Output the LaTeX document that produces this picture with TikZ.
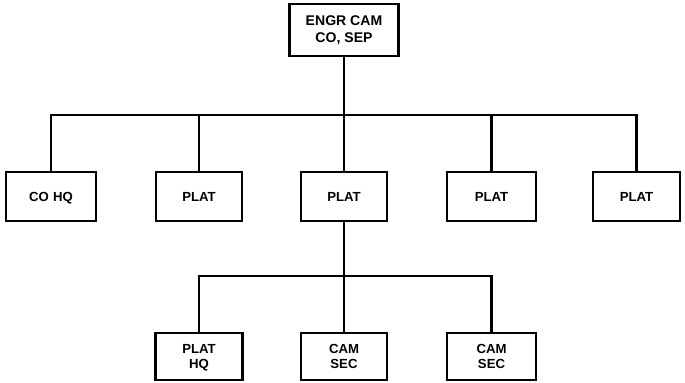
\documentclass[tikz,border=0pt]{standalone}
\usepackage{fontspec}
\setsansfont{Liberation Sans}
\usepackage{tikz}

\begin{document}
\begin{tikzpicture}[x=0.02cm, y=-0.02cm,
            box/.style={draw, line width=1.3pt, minimum height=49*0.02cm, inner sep=0pt,
                        align=center, font=\sffamily\bfseries\fontsize{7.5}{9}\selectfont},
            conn/.style={line width=1.3pt}]
            \useasboundingbox (0,0) rectangle (685,382);

            \node[box, minimum width=109*0.02cm, minimum height=52*0.02cm,
                  font=\sffamily\bfseries\fontsize{8}{9.6}\selectfont]
                  (engr) at (344,30) {ENGR CAM\\CO, SEP};

            % company row
            \node[box, minimum width=90*0.02cm] (cohq)  at (51,196.5)  {CO\,\,H\smash{Q}};
            \node[box, minimum width=86*0.02cm] (plat1) at (199,196.5) {PLAT};
            \node[box, minimum width=86*0.02cm] (plat2) at (344,196.5) {PLAT};
            \node[box, minimum width=89*0.02cm] (plat3) at (491.5,196.5) {PLAT};
            \node[box, minimum width=87*0.02cm] (plat4) at (636.5,196.5) {PLAT};

            % platoon row
            \node[box, minimum width=87*0.02cm, minimum height=47*0.02cm] (plathq) at (199,356.5) {PLAT\\H\smash{Q}};
            \node[box, minimum width=86*0.02cm, minimum height=47*0.02cm] (secA)   at (344,356.5) {CAM\\SEC};
            \node[box, minimum width=89*0.02cm, minimum height=47*0.02cm] (secB)   at (491.5,356.5) {CAM\\SEC};

            \coordinate (busTop) at (0,115);
            \coordinate (busLow) at (0,276);

            \draw[conn] (engr.south) -- (engr.south |- busTop);
            \draw[conn] (cohq.north) -- (cohq.north |- busTop) -- (plat4.north |- busTop) -- (plat4.north);
            \foreach \n in {plat1, plat2, plat3}
                \draw[conn] (\n.north) -- (\n.north |- busTop);

            \draw[conn] (plat2.south) -- (secA.north);
            \draw[conn] (plathq.north) -- (plathq.north |- busLow) -- (secB.north |- busLow) -- (secB.north);
        \end{tikzpicture}
\end{document}
